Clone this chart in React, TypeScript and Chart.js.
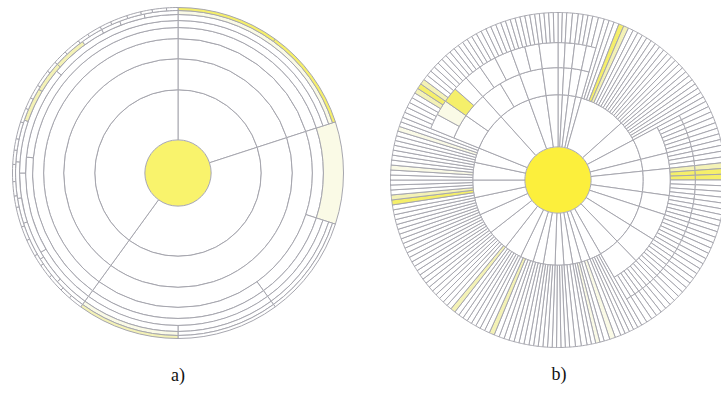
import React, { useEffect, useRef } from "react";
import { Chart, registerables } from "chart.js";

Chart.register(...registerables);

// ---------------- diagram a) ----------------
// angular sizes in degrees, clockwise from the top; level: -1 empty, 0 plain, 1 strong, 2 light, 3 pale
const aCenter = [360];
const aMainSectors = [72, 144, 144]; // rings 1-3
const aRing4 = [72, 36, 36, 72, 144];
const aMergedSectors = [72, 36, 252];
const aMergedLevel = [-1, 3, -1];
const aRing5 = [72, 36, 36, 72, 60, 84];
const aRing5Level = [0, -1, 0, 0, 0, 0];
const aRing6 = [72, 36, 36, 36, 36, 24, 30, 40, 50];
const aRing6Level = [0, -1, 0, 0, 0, 0, 0, 0, 0];
const aRing7 = [72, 36, 36, 36, 36, 12, 10, 14, 9, 13, 15, 12, 11, 12, 8, 7, 9, 12];
const aRing7Level = [3, -1, 0, 0, 3, 0, 0, 0, 0, 0, 0, 2, 2, 2, 0, 0, 0, 0];
const aRing8 = [36, 36, 36, 36, 36, 36, 5, 4, 6, 5, 4, 6, 5, 7, 4, 5, 6, 5, 4, 6, 5, 4, 5, 6, 4, 5, 6, 4, 5, 4, 6, 5, 4, 5, 4];
const aRing8Level = [1, 1, -1, 0, 0, 2, 0, 0, 0, 0, 0, 0, 0, 0, 0, 0, 0, 0, 0, 0, 0, 0, 0, 0, 0, 0, 0, 0, 0, 0, 0, 0, 0, 0, 0];

// ---------------- diagram b) ----------------
const bSectors = [3, 4, 5, 4, 32, 14, 14, 8, 14, 10, 14, 14, 14, 8, 6, 6, 6, 6, 8, 7, 9, 12, 14, 14, 12, 12, 12, 10, 26, 22, 12, 8];
const bNested = [1, 1, 1, 1, 0, 0, 1, 1, 1, 1, 1, 1, 1, 0, 0, 0, 0, 0, 0, 0, 0, 0, 0, 0, 0, 0, 0, 0, 1, 1, 1, 1];
const bLevel2Cells = [1, 1, 1, 1, 0, 0, 1, 1, 1, 1, 1, 1, 1, 0, 0, 0, 0, 0, 0, 0, 0, 0, 0, 0, 0, 0, 0, 0, 2, 2, 1, 1];
const bLevel3Cells = [1, 1, 1, 1, 0, 0, 7, 4, 7, 5, 7, 7, 7, 0, 0, 0, 0, 0, 0, 0, 0, 0, 0, 0, 0, 0, 0, 0, 4, 3, 2, 1];
const bLeafCounts = [2, 2, 3, 2, 18, 8, 7, 4, 7, 5, 7, 7, 7, 5, 3, 4, 3, 4, 5, 4, 5, 7, 8, 8, 7, 7, 7, 6, 14, 12, 7, 5];
// [sector, child, level]
const bLeafHot = [[4, 3, 1], [4, 4, 2], [8, 0, 2], [8, 1, 1], [8, 2, 1], [14, 1, 3], [15, 1, 3], [20, 3, 2], [22, 0, 2], [25, 2, 1], [25, 3, 2], [26, 2, 3], [27, 3, 3], [28, 5, 2], [28, 6, 1], [28, 7, 2]];
const bLevel3Hot = [[8, 0, 2], [8, 1, 1], [8, 2, 1], [28, 1, 3], [28, 2, 1]];

const LINE = "#a6a6ae";
const FILL = ["#ffffff", "#f5ef6a", "#f4f2b6", "#fafae6"];
const GAP = "rgba(0,0,0,0)";

type Seg = { v: number; level: number };

function segs(sizes: number[], levels?: number[]): Seg[] {
  return sizes.map((v, i) => ({ v, level: levels ? levels[i] : 0 }));
}

function hotLevel(list: number[][], sector: number, child: number) {
  const h = list.find((t) => t[0] === sector && t[1] === child);
  return h ? h[2] : 0;
}

function split(size: number, count: number, sector: number, hot: number[][]): Seg[] {
  const out: Seg[] = [];
  for (let i = 0; i < count; i++) out.push({ v: size / count, level: hotLevel(hot, sector, i) });
  return out;
}

function ds(list: Seg[], weight: number, centerColor?: string) {
  return {
    data: list.map((s) => s.v),
    backgroundColor: list.map((s) => (s.level < 0 ? GAP : centerColor ? centerColor : FILL[s.level])),
    borderColor: list.map((s) => (s.level < 0 || centerColor ? GAP : LINE)),
    borderWidth: list.map((s) => (s.level < 0 || centerColor ? 0 : 1)),
    hoverBorderWidth: 1,
    weight,
  };
}

function buildA() {
  const base = [
    ds(segs(aMergedSectors, aMergedLevel), 20),
    ds(segs(aRing4), 11),
    ds(segs(aMainSectors), 20),
    ds(segs(aMainSectors), 31),
    ds(segs(aMainSectors), 50),
    ds(segs(aCenter), 33, "#f9f36c"),
  ];
  const over = [
    ds(segs(aRing8, aRing8Level), 3),
    ds(segs(aRing7, aRing7Level), 4),
    ds(segs(aRing6, aRing6Level), 6),
    ds(segs(aRing5, aRing5Level), 7),
  ];
  return { base, over, overCut: "87.9%" };
}

function buildB() {
  const longRing: Seg[] = [];
  const rim: Seg[] = [];
  const lvl3: Seg[] = [];
  const lvl2: Seg[] = [];
  bSectors.forEach((s, i) => {
    if (bNested[i]) {
      longRing.push({ v: s, level: -1 });
      rim.push(...split(s, bLeafCounts[i], i, bLeafHot));
      lvl3.push(...split(s, bLevel3Cells[i], i, bLevel3Hot));
      lvl2.push(...split(s, bLevel2Cells[i], i, []));
    } else {
      longRing.push(...split(s, bLeafCounts[i], i, bLeafHot));
      rim.push({ v: s, level: -1 });
      lvl3.push({ v: s, level: -1 });
      lvl2.push({ v: s, level: -1 });
    }
  });
  const base = [ds(longRing, 82), ds(segs(bSectors), 52), ds(segs([360]), 33, "#fcef3c")];
  const over = [ds(rim, 30), ds(lvl3, 25), ds(lvl2, 27)];
  return { base, over, overCut: "50.9%" };
}

function Doughnut(props: { left: number; top: number; size: number; datasets: any[]; cutout: string | number }) {
  const ref = useRef<HTMLCanvasElement | null>(null);
  useEffect(() => {
    if (!ref.current) return;
    const chart = new Chart(ref.current, {
      type: "doughnut",
      data: { datasets: props.datasets },
      options: {
        responsive: false,
        animation: false,
        cutout: props.cutout,
        events: [],
        layout: { padding: 0 },
        plugins: { legend: { display: false }, tooltip: { enabled: false } },
      } as any,
    });
    return () => chart.destroy();
  }, []);
  return (
    <canvas
      ref={ref}
      width={props.size}
      height={props.size}
      style={{ position: "absolute", left: props.left, top: props.top, width: props.size, height: props.size }}
    />
  );
}

export default function App() {
  const a = buildA();
  const b = buildB();
  const label: React.CSSProperties = {
    position: "absolute",
    width: 40,
    textAlign: "center",
    fontFamily: "'Liberation Serif', 'DejaVu Serif', serif",
    fontSize: 18,
    lineHeight: "24px",
    color: "#111",
  };
  return (
    <div style={{ position: "absolute", left: 0, top: 0, width: 721, height: 399, overflow: "hidden", background: "#fff" }}>
      <Doughnut left={12} top={7} size={332} datasets={a.base} cutout={0} />
      <Doughnut left={12} top={7} size={332} datasets={a.over} cutout={a.overCut} />
      <Doughnut left={390} top={12} size={336} datasets={b.base} cutout={0} />
      <Doughnut left={390} top={12} size={336} datasets={b.over} cutout={b.overCut} />
      <div style={{ ...label, left: 158, top: 363 }}>a)</div>
      <div style={{ ...label, left: 539, top: 362 }}>b)</div>
    </div>
  );
}
